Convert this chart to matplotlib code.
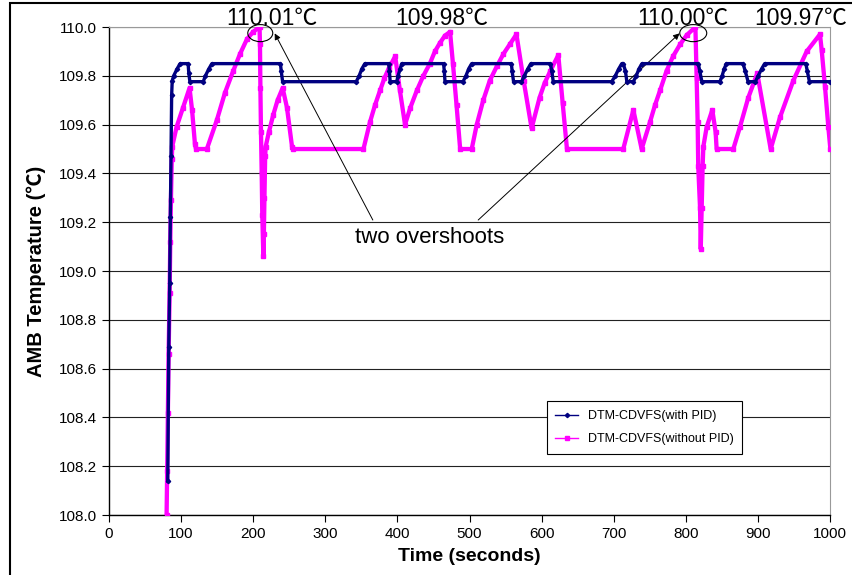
import numpy as np
import matplotlib.pyplot as plt
from matplotlib.patches import Ellipse, Rectangle
from matplotlib.lines import Line2D

# DTM-CDVFS with PID (time s, temperature C)
pid_t = [81.8, 83.2, 84.5, 85.4, 86.3, 87.2, 88.0, 90, 95, 99, 110, 111, 112.5,
         131, 134, 139, 143, 238, 239, 241, 343, 347, 351, 355, 388, 389, 390,
         399, 401, 404, 406, 464, 465, 466, 491, 495, 499, 503, 558, 559, 561,
         572, 576, 581, 585, 612, 614, 616, 697, 702, 707, 711, 713, 716, 718,
         727, 731, 735, 739, 817, 819, 822, 847, 850, 853, 856, 879, 882, 886,
         896, 900, 905, 909, 966, 968, 971, 1000]
pid_v = [108.14, 108.69, 108.95, 109.22, 109.47, 109.72, 109.78, 109.80, 109.83, 109.85, 109.85, 109.81, 109.776,
         109.776, 109.80, 109.83, 109.85, 109.85, 109.82, 109.776, 109.776, 109.80, 109.83, 109.85, 109.85, 109.82, 109.776,
         109.776, 109.80, 109.83, 109.85, 109.85, 109.82, 109.776, 109.776, 109.80, 109.83, 109.85, 109.85, 109.82, 109.776,
         109.776, 109.80, 109.83, 109.85, 109.85, 109.82, 109.776, 109.776, 109.80, 109.83, 109.85, 109.85, 109.82, 109.776,
         109.776, 109.80, 109.83, 109.85, 109.85, 109.82, 109.776, 109.776, 109.80, 109.83, 109.85, 109.85, 109.82, 109.776,
         109.776, 109.80, 109.83, 109.85, 109.85, 109.82, 109.776, 109.776]

# DTM-CDVFS without PID
nopid_t = [80.2, 81.0, 82.0, 83.0, 84.4, 85.3, 86.2, 87.4, 88, 94, 103, 112, 115.5, 119.5, 121,
           136, 150, 161, 172.5, 182, 191.5, 200, 209,
           209.6, 210.2, 211, 212, 212.8, 214.3, 215.0, 215.8, 216.8, 217.5, 222, 228, 234, 241,
           247, 254, 255, 353, 362, 369, 376, 382, 388, 397, 403.5, 410.6,
           418, 427, 436, 445, 452, 459, 466, 473, 477, 482, 487, 503,
           510, 519, 528, 538, 547, 556, 565, 575, 586, 597, 604, 612, 623, 629, 635, 713,
           727, 738.5, 750, 757, 764, 773, 782, 792, 801, 813,
           814.7, 816.1, 816.9, 819.4, 820.4, 821.7, 823, 824, 828.6, 836.4, 841, 842.4, 865.5,
           874.7, 886.2, 898.7, 917.3, 930.2, 948.6, 967.2, 985.6, 988, 992.6, 997.2, 1000]
nopid_v = [108.0, 108.18, 108.42, 108.66, 108.91, 109.12, 109.29, 109.46, 109.51, 109.59, 109.67, 109.75, 109.66, 109.52, 109.50,
           109.50, 109.62, 109.73, 109.82, 109.89, 109.95, 109.98, 110.0,
           109.93, 109.75, 109.57, 109.40, 109.23, 109.06, 109.15, 109.30, 109.47, 109.51, 109.57, 109.64, 109.70, 109.75,
           109.67, 109.51, 109.50, 109.50, 109.61, 109.68, 109.74, 109.79, 109.83, 109.88, 109.74, 109.60,
           109.67, 109.74, 109.80, 109.85, 109.90, 109.935, 109.965, 109.98, 109.85, 109.68, 109.50, 109.50,
           109.60, 109.70, 109.78, 109.84, 109.89, 109.93, 109.97, 109.78, 109.585, 109.71, 109.77, 109.82, 109.885, 109.69, 109.50, 109.50,
           109.66, 109.50, 109.61, 109.68, 109.74, 109.82, 109.88, 109.93, 109.967, 110.0,
           109.79, 109.61, 109.43, 109.26, 109.09, 109.26, 109.43, 109.51, 109.59, 109.66, 109.57, 109.50, 109.50,
           109.59, 109.71, 109.81, 109.50, 109.63, 109.78, 109.90, 109.97, 109.905, 109.755, 109.59, 109.50]

peak_labels = ["110.01\u2103", "109.98\u2103", "110.00\u2103", "109.97\u2103"]
peak_label_t = [226, 462, 795, 959]

xticks = np.arange(0, 1001, 100)
yticks = np.arange(108.0, 110.01, 0.2)

fam = ['Liberation Sans', 'Noto Sans CJK SC', 'DejaVu Sans']
plt.rcParams['font.family'] = fam

fig = plt.figure(figsize=(8.52, 5.75), dpi=100)
ax = fig.add_axes([0.1276, 0.1043, 0.8470, 0.8487])

ax.plot(pid_t, pid_v, color='#000080', lw=2.4, marker='D', ms=2.2, zorder=4)
ax.plot(nopid_t, nopid_v, color='#FF00FF', lw=3.1, marker='s', ms=3.4, zorder=3)

ax.set_xlim(0, 1000)
ax.set_ylim(108.0, 110.0)
ax.set_xticks(xticks)
ax.set_yticks(yticks)
ax.set_yticklabels([f"{v:.1f}" for v in yticks])
ax.tick_params(axis='both', direction='out', length=5, width=0.8, labelsize=11, colors='black')
ax.grid(axis='y', color='#222222', lw=0.8)
ax.set_axisbelow(True)
for s in ['top', 'right']:
    ax.spines[s].set_color('#999999')
ax.spines['left'].set_linewidth(1.0)
ax.spines['bottom'].set_linewidth(1.0)

ax.set_xlabel("Time (seconds)", fontsize=14, fontweight='bold', labelpad=5)
ax.set_ylabel("AMB Temperature (\u2103)", fontsize=14.5, fontweight='bold', labelpad=9)

# overshoot annotations
for tt, lab in zip(peak_label_t, peak_labels):
    ax.text(tt, 110.035, lab, fontsize=16.5, ha='center', va='center', clip_on=False)

ax.add_patch(Ellipse((210, 109.975), 34.6, 0.07, fill=False, ec='black', lw=0.8, clip_on=False, zorder=5))
ax.add_patch(Ellipse((810, 109.975), 37.4, 0.07, fill=False, ec='black', lw=0.8, clip_on=False, zorder=5))
ax.text(445, 109.139, "two overshoots", fontsize=16, ha='center', va='center')
arrow = dict(arrowstyle='-|>', color='black', lw=0.7, mutation_scale=9, shrinkA=0, shrinkB=0)
ax.annotate('', xy=(230, 109.974), xytext=(366, 109.209), arrowprops=arrow)
ax.annotate('', xy=(791, 109.974), xytext=(512, 109.209), arrowprops=arrow)

handles = [Line2D([], [], color='#000080', lw=1, marker='D', ms=2.2),
           Line2D([], [], color='#FF00FF', lw=1, marker='s', ms=3)]
leg = ax.legend(handles, ["DTM-CDVFS(with PID)", "DTM-CDVFS(without PID)"],
                loc='lower left', bbox_to_anchor=(0.598, 0.112), fontsize=9,
                frameon=True, fancybox=False, edgecolor='black', framealpha=1,
                handlelength=1.8, borderpad=0.7, labelspacing=0.9)
leg.get_frame().set_linewidth(0.8)

fig.patches.append(Rectangle((0.0117, -0.1), 1.2, 1.0948, transform=fig.transFigure,
                             fill=False, ec='black', lw=1.5))

fig.savefig("out.png", dpi=100)
